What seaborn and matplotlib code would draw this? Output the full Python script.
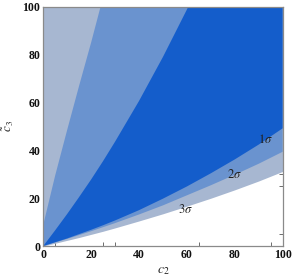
import matplotlib
matplotlib.use("Agg")
import matplotlib.pyplot as plt
import numpy as np
import pandas as pd
import seaborn as sns

LIGHT = "#a7b7d1"
MEDIUM = "#6a93cf"
DARK = "#145dcb"
SPINE_COLOR = "#8a8a8a"

# boundaries of the confidence regions
c2 = [0, 5, 10, 15, 20, 25, 30, 40, 50, 60, 70, 80, 90, 100]
lower_3s = [0, 1.2, 2.4, 3.6, 4.9, 6.2, 7.6, 10.5, 13.5, 16.7, 20.0, 23.5, 27.2, 31.2]
lower_2s = [0, 1.5, 3.0, 4.6, 6.2, 7.9, 9.6, 13.2, 17.0, 21.2, 25.4, 29.8, 34.4, 39.4]
lower_1s = [0, 1.6, 3.2, 5.0, 6.8, 8.7, 10.7, 15.0, 19.8, 24.9, 30.4, 36.2, 42.4, 49.2]
upper_2s = [8.8, 29.5, 48.5, 67.0, 85.0, 104.0, 125.0, 160, 200, 240, 280, 320, 360, 400]
upper_1s = [0, 6.6, 13.4, 20.5, 27.8, 35.5, 43.6, 60.6, 79.0, 98.8, 120.0, 143, 166, 190]
top = [100] * len(c2)

x_ticks = [0, 20, 40, 60, 80, 100]
y_ticks = [0, 20, 40, 60, 80, 100]
x_marks = [5, 20, 25, 30, 60, 65, 95]
y_marks = [5, 25, 30, 60, 65, 70]

df = pd.DataFrame({"c2": c2, "lo3": lower_3s, "lo2": lower_2s, "lo1": lower_1s,
                   "up2": upper_2s, "up1": upper_1s, "top": top})

sns.set_theme(style="white")
plt.rcParams["mathtext.fontset"] = "stix"
plt.rcParams["font.family"] = ["Liberation Serif", "DejaVu Serif"]

fig = plt.figure(figsize=(2.92, 2.79), dpi=100)
ax = fig.add_axes([0.148, 0.118, 0.82, 0.858])

ax.fill_between(df["c2"], df["lo3"], df["top"], color=LIGHT, lw=0)
ax.fill_between(df["c2"], df["lo2"], df["up2"], color=MEDIUM, lw=0)
ax.fill_between(df["c2"], df["lo1"], df["up1"], color=DARK, lw=0)

ax.set_xlim(0, 100)
ax.set_ylim(0, 100)

for s in ax.spines.values():
    s.set_color(SPINE_COLOR)
    s.set_linewidth(0.9)

ax.set_xticks(x_ticks)
ax.set_yticks(y_ticks)
ax.set_xticks(x_marks, minor=True)
ax.set_yticks(y_marks, minor=True)
ax.tick_params(which="major", length=0, pad=2, labelsize=8.5)
ax.tick_params(which="minor", direction="in", length=3, width=0.6, color="#555",
               top=True, right=True, bottom=True, left=True)
for lab in ax.get_xticklabels() + ax.get_yticklabels():
    lab.set_fontweight("bold")
    lab.set_color("#111")

ax.set_xlabel(r"$c_2$", fontsize=10, labelpad=2, color="#222")
ax.set_ylabel(r"$\tilde{c}_3$", fontsize=9.5, labelpad=5, color="#222")

ax.text(93, 44.6, r"$1\sigma$", fontsize=9, ha="center", va="center", color="#222")
ax.text(80, 30, r"$2\sigma$", fontsize=9, ha="center", va="center", color="#222")
ax.text(59.5, 15.2, r"$3\sigma$", fontsize=9, ha="center", va="center", color="#222")

plt.savefig("out.png", dpi=100)
plt.close()
